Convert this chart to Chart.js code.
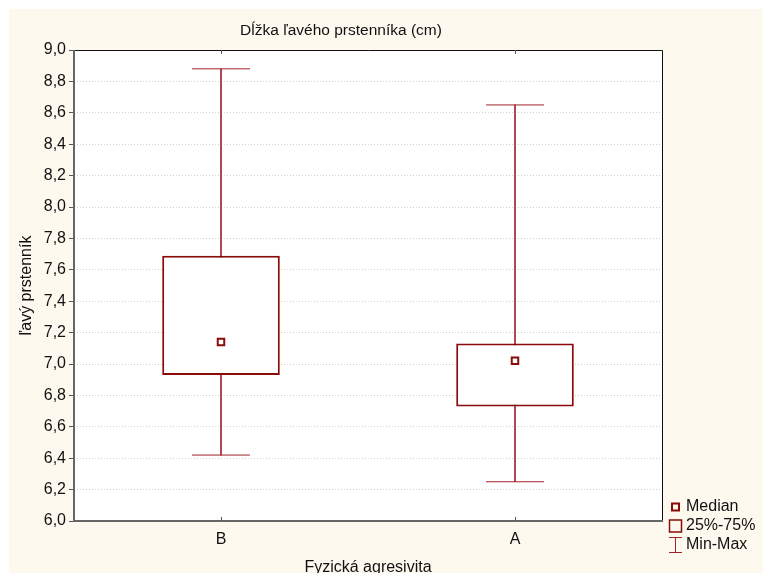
<!DOCTYPE html>
<html>
<head>
<meta charset="utf-8">
<script src="https://cdn.jsdelivr.net/npm/chart.js@4"></script>
<style>
  html, body { margin: 0; padding: 0; background: #ffffff; }
  #wrap { width: 763px; height: 573px; }
</style>
</head>
<body>
<div id="wrap"><canvas id="c" width="763" height="573"></canvas></div>
<script>
const categories = ['B', 'A'];
const minVals    = [6.42, 6.25];
const q1Vals     = [6.93, 6.73];
const medianVals = [7.14, 7.02];
const q3Vals     = [7.69, 7.13];
const maxVals    = [8.88, 8.65];
const yTickValues = [6.0, 6.2, 6.4, 6.6, 6.8, 7.0, 7.2, 7.4, 7.6, 7.8, 8.0, 8.2, 8.4, 8.6, 8.8, 9.0];
const yTickLabels = yTickValues.map(v => v.toFixed(1).replace('.', ','));
const titleText = 'Dĺžka ľavého prstenníka (cm)';
const xTitle = 'Fyzická agresivita';
const yTitle = 'ľavý prstenník';
const legendLabels = ['Median', '25%-75%', 'Min-Max'];

const BOX = '#8b0a0a';
const WHISK = '#a3222c';
const CREAM = '#fef9ee';
const FONT = '"Liberation Sans", Arial, sans-serif';

const decor = {
  id: 'decor',
  beforeDraw(chart) {
    const ctx = chart.ctx, a = chart.chartArea;
    ctx.save();
    ctx.fillStyle = '#ffffff';
    ctx.fillRect(0, 0, chart.width, chart.height);
    ctx.fillStyle = CREAM;
    ctx.fillRect(9, 9, chart.width - 9, chart.height - 9);
    ctx.fillStyle = '#ffffff';
    ctx.fillRect(a.left, a.top, a.right - a.left, a.bottom - a.top);
    ctx.restore();
  },
  afterDraw(chart) {
    const ctx = chart.ctx, a = chart.chartArea;
    const xs = chart.scales.x;
    ctx.save();
    // frame
    ctx.lineWidth = 1;
    ctx.strokeStyle = '#111111';
    ctx.beginPath();
    ctx.moveTo(a.left, a.top + 0.5); ctx.lineTo(a.right + 0.5, a.top + 0.5);
    ctx.lineTo(a.right + 0.5, a.bottom);
    ctx.stroke();
    ctx.lineWidth = 2;
    ctx.strokeStyle = '#666666';
    ctx.beginPath();
    ctx.moveTo(a.left, a.top); ctx.lineTo(a.left, a.bottom); ctx.lineTo(a.right + 1, a.bottom);
    ctx.stroke();
    // category tick marks inside frame
    ctx.lineWidth = 1;
    ctx.strokeStyle = '#555555';
    categories.forEach((c, i) => {
      const x = Math.round(xs.getPixelForValue(i)) + 0.5;
      ctx.beginPath();
      ctx.moveTo(x, a.top); ctx.lineTo(x, a.top + 4);
      ctx.moveTo(x, a.bottom); ctx.lineTo(x, a.bottom - 4);
      ctx.stroke();
    });
    // title
    ctx.fillStyle = '#111111';
    ctx.font = '15.5px ' + FONT;
    ctx.textAlign = 'center';
    ctx.textBaseline = 'middle';
    ctx.fillText(titleText, 341, 31);
    // legend
    const lx = 668, ty = [507, 526, 545];
    ctx.font = '16px ' + FONT;
    ctx.textAlign = 'left';
    ctx.fillStyle = '#111111';
    legendLabels.forEach((t, i) => ctx.fillText(t, 686, ty[i]));
    ctx.strokeStyle = BOX;
    ctx.lineWidth = 2;
    ctx.strokeRect(lx + 4, ty[0] - 3.5, 7, 7);
    ctx.lineWidth = 1.5;
    ctx.strokeRect(lx + 1.5, ty[1] - 6, 12, 12);
    ctx.lineWidth = 1;
    ctx.strokeStyle = WHISK;
    ctx.beginPath();
    ctx.moveTo(lx + 1, ty[2] - 7.5); ctx.lineTo(lx + 14, ty[2] - 7.5);
    ctx.moveTo(lx + 7.5, ty[2] - 7.5); ctx.lineTo(lx + 7.5, ty[2] + 7.5);
    ctx.moveTo(lx + 1, ty[2] + 7.5); ctx.lineTo(lx + 14, ty[2] + 7.5);
    ctx.stroke();
    ctx.restore();
  }
};

new Chart(document.getElementById('c'), {
  data: {
    labels: categories,
    datasets: [
      {
        type: 'bar',
        label: 'whisker',
        data: categories.map((c, i) => [minVals[i], maxVals[i]]),
        backgroundColor: WHISK,
        barThickness: 1,
        grouped: false,
        order: 4
      },
      {
        type: 'bar',
        label: '25%-75%',
        data: categories.map((c, i) => [q1Vals[i], q3Vals[i]]),
        backgroundColor: '#ffffff',
        borderColor: BOX,
        borderWidth: 2,
        borderSkipped: false,
        categoryPercentage: 1,
        barPercentage: 0.4,
        grouped: false,
        order: 3
      },
      {
        type: 'line',
        label: 'max',
        data: maxVals,
        showLine: false,
        pointStyle: 'line',
        pointRadius: 29,
        pointBorderWidth: 1,
        borderColor: WHISK,
        order: 2
      },
      {
        type: 'line',
        label: 'min',
        data: minVals,
        showLine: false,
        pointStyle: 'line',
        pointRadius: 29,
        pointBorderWidth: 1,
        borderColor: WHISK,
        order: 2
      },
      {
        type: 'line',
        label: 'Median',
        data: medianVals,
        showLine: false,
        pointStyle: 'rect',
        pointRadius: 4.6,
        pointBorderWidth: 2,
        borderColor: BOX,
        backgroundColor: '#ffffff',
        order: 1
      }
    ]
  },
  options: {
    responsive: false,
    animation: false,
    layout: { padding: { left: 9, top: 50, right: 101, bottom: 0 } },
    plugins: {
      legend: { display: false },
      tooltip: { enabled: false },
      title: { display: false }
    },
    scales: {
      x: {
        type: 'category',
        offset: true,
        grid: { display: false },
        border: { display: false },
        ticks: { color: '#111111', font: { family: FONT, size: 16 }, padding: 1 },
        title: {
          display: true, text: xTitle, color: '#111111',
          font: { family: FONT, size: 16, lineHeight: 1 },
          padding: { top: 0, bottom: -3 }
        },
        afterFit(s) { s.height = 52; }
      },
      y: {
        type: 'linear',
        min: 6, max: 9,
        afterBuildTicks(s) { s.ticks = yTickValues.map(v => ({ value: v })); },
        grid: {
          color: '#d0d0d0', lineWidth: 1,
          drawTicks: true, tickLength: 5, tickColor: '#555555', tickBorderDash: []
        },
        border: { display: false, dash: [1, 2] },
        ticks: {
          color: '#111111', font: { family: FONT, size: 16 }, padding: 3,
          callback(v, i) { return yTickLabels[i]; }
        },
        title: {
          display: true, text: yTitle, color: '#111111',
          font: { family: FONT, size: 16, lineHeight: 1 },
          padding: { top: 10, bottom: 0 }
        },
        afterFit(s) { s.width = 65; }
      }
    }
  },
  plugins: [decor]
});
</script>
</body>
</html>
